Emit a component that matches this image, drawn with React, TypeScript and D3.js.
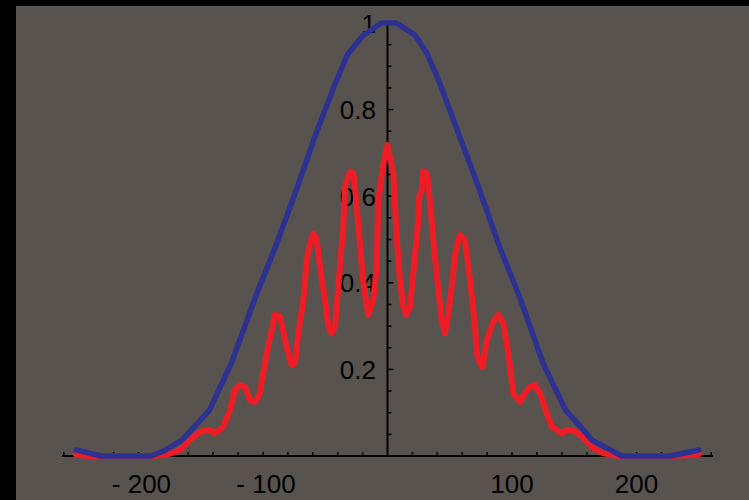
import React from "react";
import * as d3 from "d3";

// ---- data ----
const blueX = [-250, -230, -190, -178, -165, -155, -143, -125, -106, -90, -75, -58, -42, -32, -20, -5, 7, 10, 22, 31.5, 42, 58, 74, 90, 106, 125, 143, 155, 164, 179, 188, 227, 250];
const blueY = [0.014, 0, 0, 0.014, 0.037, 0.068, 0.106, 0.217, 0.368, 0.483, 0.6, 0.74, 0.86, 0.928, 0.97, 1.0, 1.0, 0.995, 0.972, 0.931, 0.861, 0.737, 0.614, 0.483, 0.368, 0.214, 0.106, 0.068, 0.037, 0.014, 0, 0, 0.014];

const redX = [
  -250, -239, -191, -177, -166.7, -158.6, -150.6, -142.6, -138.6, -131.9, -126.5, -122.5, -118.5, -114.5, -110.4, -106.4,
  -102.4, -101, -97, -93, -90.4, -86.3, -81, -77, -74.3, -71.6, -67.6, -64.9, -62.2, -59.6, -56.9, -54.2, -50.2, -47.5,
  -44.8, -42.2, -38.2, -35.5, -34.1, -30.1, -27.5, -26.1, -19.4, -15.4, -11.4, -8.7, -7.4, -3, 0,
  4.7, 7.4, 10, 12.7, 14.9, 18.1, 20.7, 24.7, 25.5, 27.5, 28.8, 31.5, 32.8, 36.8, 40.8, 43.5, 46.2, 48.8, 51.6, 54.2,
  56.9, 58.2, 62.2, 66.3, 70.3, 71.6, 74.3, 76.5, 79.7, 85, 89, 93, 97, 101, 106.4, 110.4, 114.5, 118.5, 122.5, 127.9,
  131.9, 140, 143.9, 149.2, 154.6, 165.3, 173.3, 185.4, 227, 248.4, 250,
];
const redY = [
  0.003, 0, 0, 0.003, 0.014, 0.037, 0.056, 0.06, 0.052, 0.068, 0.106, 0.152, 0.164, 0.16, 0.129, 0.125,
  0.145, 0.172, 0.237, 0.291, 0.326, 0.322, 0.252, 0.21, 0.214, 0.283, 0.36, 0.453, 0.491, 0.514, 0.499, 0.437, 0.36, 0.299,
  0.283, 0.299, 0.437, 0.53, 0.622, 0.657, 0.653, 0.622, 0.399, 0.326, 0.36, 0.437, 0.591, 0.68, 0.718,
  0.653, 0.506, 0.406, 0.345, 0.326, 0.345, 0.422, 0.545, 0.599, 0.614, 0.657, 0.653, 0.63, 0.499, 0.383, 0.314, 0.283, 0.33, 0.391, 0.464,
  0.499, 0.51, 0.499, 0.406, 0.299, 0.237, 0.214, 0.206, 0.268, 0.31, 0.326, 0.306, 0.237, 0.145, 0.125, 0.145, 0.16, 0.164, 0.145, 0.099,
  0.068, 0.052, 0.06, 0.06, 0.048, 0.018, 0.006, 0, 0, 0.003, 0.004,
];

const xTickValues = d3.range(-260, 261, 20).filter((v) => v !== 0);
const xLabelValues = [-200, -100, 100, 200];
const xLabelTexts = ["- 200", "- 100", "100", "200"];
const yTickValues = d3.range(1, 21).map((i) => i * 0.05);
const yLabelValues = [0.2, 0.4, 0.6, 0.8, 1];
const yLabelTexts = ["0.2", "0.4", "0.6", "0.8", "1"];

const W = 749;
const H = 500;

export default function App() {
  const x = d3.scaleLinear().domain([-261.4, 261.4]).range([62, 713]);
  const y = d3.scaleLinear().domain([0, 1]).range([456, 23]);

  const line = d3
    .line<[number, number]>()
    .x((d) => x(d[0]))
    .y((d) => y(d[1]));

  const blue = blueX.map((v, i) => [v, blueY[i]] as [number, number]);
  const red = redX.map((v, i) => [v, redY[i]] as [number, number]);
  const x0 = x(0);
  const yb = y(0);
  const font = "'Liberation Sans', Arial, Helvetica, sans-serif";

  return (
    <div style={{ position: "fixed", left: 0, top: 0 }}>
      <svg width={W} height={H} style={{ display: "block" }}>
        <rect x={0} y={0} width={W} height={H} fill="#000" />
        <rect x={16} y={6} width={W - 16} height={H - 6} fill="#59534f" />

        {/* x axis */}
        <line x1={62} x2={713} y1={yb} y2={yb} stroke="#000" strokeWidth={2} />
        {xTickValues.map((v) => (
          <line key={"xt" + v} x1={x(v)} x2={x(v)} y1={yb} y2={yb - 4} stroke="#000" strokeWidth={1.5} />
        ))}
        {xLabelValues.map((v, i) => (
          <text
            key={"xl" + v}
            x={x(v) + (v < 0 ? 3 : 0)}
            y={493}
            textAnchor="middle"
            fontFamily={font}
            fontSize={26}
            fill="#000"
          >
            {xLabelTexts[i]}
          </text>
        ))}

        {/* y axis */}
        <line x1={x0} x2={x0} y1={yb} y2={y(1)} stroke="#000" strokeWidth={2} />
        {yTickValues.map((v, i) => (
          <line
            key={"yt" + i}
            x1={x0}
            x2={x0 + ((i + 1) % 4 === 0 ? 6 : 4)}
            y1={y(v)}
            y2={y(v)}
            stroke="#000"
            strokeWidth={1.5}
          />
        ))}
        {yLabelValues.map((v, i) => (
          <text
            key={"yl" + v}
            x={376}
            y={y(v) + 9.5}
            textAnchor="end"
            fontFamily={font}
            fontSize={26}
            fill="#000"
          >
            {yLabelTexts[i]}
          </text>
        ))}

        {/* curves */}
        <path d={line(red) || ""} fill="none" stroke="#ee1c25" strokeWidth={6} strokeLinejoin="round" strokeLinecap="round" />
        <path d={line(blue) || ""} fill="none" stroke="#2d3191" strokeWidth={5.5} strokeLinejoin="round" strokeLinecap="round" />
      </svg>
    </div>
  );
}
